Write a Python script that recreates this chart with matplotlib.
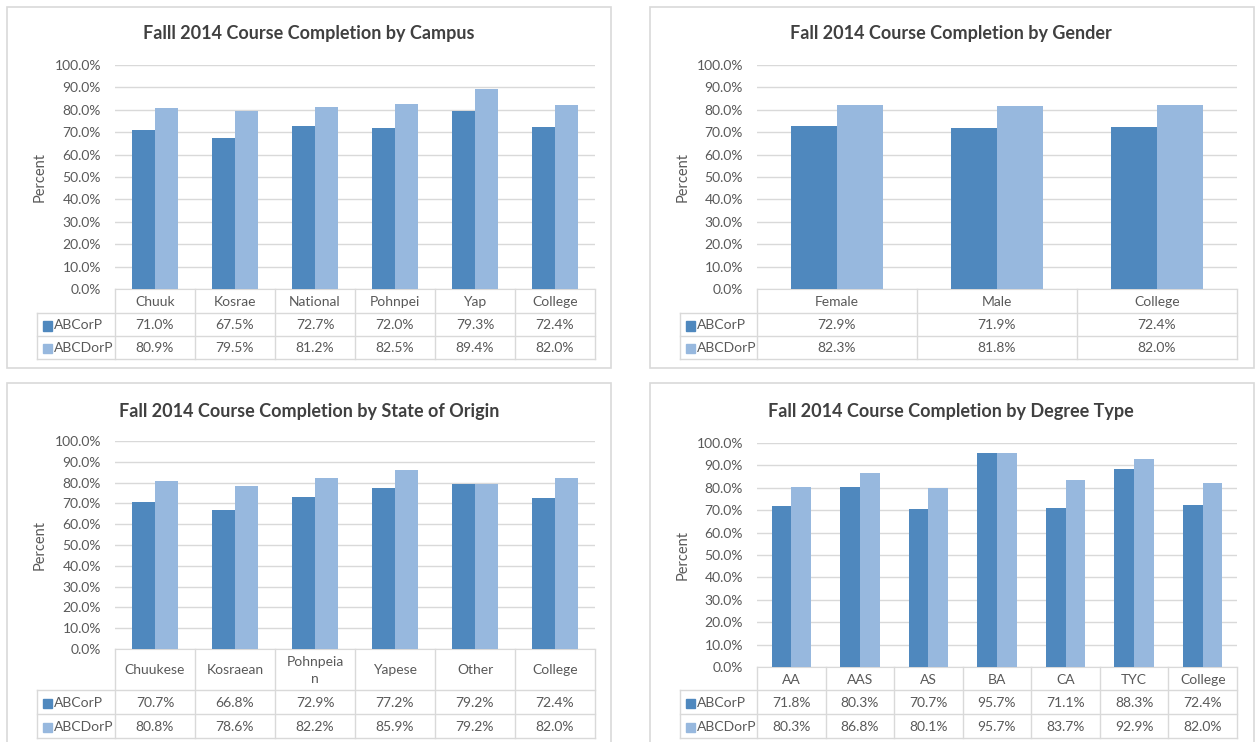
import textwrap

import matplotlib
matplotlib.use("Agg")
import matplotlib.pyplot as plt
import numpy as np
from matplotlib.lines import Line2D
from matplotlib.patches import Rectangle

W, H = 1256, 742

series_names = ["ABCorP", "ABCDorP"]

campus = ["Chuuk", "Kosrae", "National", "Pohnpei", "Yap", "College"]
campus_abcorp = [71.0, 67.5, 72.7, 72.0, 79.3, 72.4]
campus_abcdorp = [80.9, 79.5, 81.2, 82.5, 89.4, 82.0]

gender = ["Female", "Male", "College"]
gender_abcorp = [72.9, 71.9, 72.4]
gender_abcdorp = [82.3, 81.8, 82.0]

state = ["Chuukese", "Kosraean", "Pohnpeian", "Yapese", "Other", "College"]
state_abcorp = [70.7, 66.8, 72.9, 77.2, 79.2, 72.4]
state_abcdorp = [80.8, 78.6, 82.2, 85.9, 79.2, 82.0]

degree = ["AA", "AAS", "AS", "BA", "CA", "TYC", "College"]
degree_abcorp = [71.8, 80.3, 70.7, 95.7, 71.1, 88.3, 72.4]
degree_abcdorp = [80.3, 86.8, 80.1, 95.7, 83.7, 92.9, 82.0]

DARK = "#4F88BE"
LIGHT = "#97B8DE"
GRID = "#D9D9D9"
TXT = "#595959"
TITLE = "#404040"

plt.rcParams["font.family"] = ["Lato", "DejaVu Sans"]

fig = plt.figure(figsize=(W / 100, H / 100), dpi=100)


def fx(x):
    return x / W


def fy(y):
    return 1 - y / H


def hline(x0, x1, y):
    fig.add_artist(Line2D([fx(x0), fx(x1)], [fy(y), fy(y)], color=GRID, lw=1,
                          transform=fig.transFigure))


def vline(x, y0, y1):
    fig.add_artist(Line2D([fx(x), fx(x)], [fy(y0), fy(y1)], color=GRID, lw=1,
                          transform=fig.transFigure))


def panel(box, title, title_y, plot, rows, leg_x0, cats, s1, s2, ylab_x):
    bx0, by0, bx1, by1 = box
    fig.add_artist(Rectangle((fx(bx0), fy(by1)), (bx1 - bx0) / W, (by1 - by0) / H,
                             fill=False, edgecolor=GRID, lw=1.2,
                             transform=fig.transFigure))
    x0, x1, ytop, ybot = plot
    fig.text(fx((x0 + x1) / 2 - 46), fy(title_y), title, ha="center", va="center",
             fontsize=13, fontweight="bold", color=TITLE)

    ax = fig.add_axes([fx(x0), fy(ybot), (x1 - x0) / W, (ybot - ytop) / H])
    n = len(cats)
    idx = np.arange(n)
    w = 0.2875
    ax.bar(idx - w / 2, s1, w, color=DARK, zorder=3)
    ax.bar(idx + w / 2, s2, w, color=LIGHT, zorder=3)
    ax.set_xlim(-0.5, n - 0.5)
    ax.set_ylim(0, 100)
    ax.set_yticks(np.arange(0, 101, 10))
    ax.set_yticklabels([f"{v:.1f}%" for v in np.arange(0, 101, 10)])
    ax.set_xticks([])
    ax.tick_params(axis="y", length=0, labelsize=10, labelcolor=TXT, pad=10)
    ax.grid(axis="y", color=GRID, lw=1, zorder=0)
    for side in ["left", "right", "top"]:
        ax.spines[side].set_visible(False)
    ax.spines["bottom"].set_color(GRID)
    ax.patch.set_alpha(0)
    fig.text(fx(ylab_x), fy((ytop + ybot) / 2), "Percent", rotation=90,
             ha="center", va="center", fontsize=10.5, color=TXT)

    # data table under the plot
    cat_b, r1_b, r2_b = rows
    cw = (x1 - x0) / n
    for i in range(n + 1):
        vline(x0 + i * cw, ybot, r2_b)
    vline(leg_x0, cat_b, r2_b)
    for y in (cat_b, r1_b, r2_b):
        hline(leg_x0, x1, y)
    for i, c in enumerate(cats):
        fig.text(fx(x0 + (i + 0.5) * cw), fy((ybot + cat_b) / 2 + 1),
                 textwrap.fill(c, 8), ha="center", va="center", fontsize=10,
                 color=TXT, linespacing=1.5)
    bounds = [(cat_b, r1_b), (r1_b, r2_b)]
    for (ya, yb), vals, name, col in zip(bounds, (s1, s2), series_names, (DARK, LIGHT)):
        yc = (ya + yb) / 2 + 1
        fig.add_artist(Rectangle((fx(leg_x0 + 6), fy(yc + 5)), 9 / W, 9 / H,
                                 color=col, transform=fig.transFigure))
        fig.text(fx(leg_x0 + 17), fy(yc), name, ha="left", va="center",
                 fontsize=10, color=TXT)
        for i, v in enumerate(vals):
            fig.text(fx(x0 + (i + 0.5) * cw), fy(yc), f"{v:.1f}%", ha="center",
                     va="center", fontsize=10, color=TXT)


panel((7, 7, 611, 368), "Falll 2014 Course Completion by Campus", 33,
      (115, 595, 65, 289), (313, 336, 359), 37,
      campus, campus_abcorp, campus_abcdorp, 40)
panel((650, 7, 1254, 368), "Fall 2014 Course Completion by Gender", 33,
      (757, 1237, 65, 289), (313, 336, 359), 680,
      gender, gender_abcorp, gender_abcdorp, 683)
panel((7, 383, 611, 760), "Fall 2014 Course Completion by State of Origin", 411,
      (115, 595, 441, 649), (690, 714, 738), 37,
      state, state_abcorp, state_abcdorp, 40)
panel((650, 383, 1254, 760), "Fall 2014 Course Completion by Degree Type", 411,
      (757, 1237, 443, 667), (690, 714, 738), 680,
      degree, degree_abcorp, degree_abcdorp, 683)

fig.savefig("out.png", dpi=100)
